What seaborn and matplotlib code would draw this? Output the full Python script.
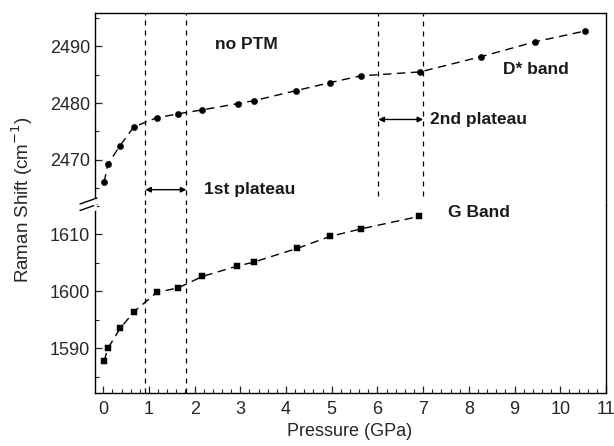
import numpy as np
import pandas as pd
import matplotlib
matplotlib.use('Agg')
import matplotlib.pyplot as plt
from matplotlib.ticker import MultipleLocator
import seaborn as sns

# D* band (upper part)
d_pressure = [0.02, 0.1, 0.37, 0.67, 1.17, 1.64, 2.17, 2.94, 3.29, 4.22, 4.96, 5.63, 6.93, 8.27, 9.44, 10.53]
d_shift = [2466.0, 2469.2, 2472.5, 2475.8, 2477.4, 2478.1, 2478.8, 2479.9, 2480.4, 2482.2, 2483.6, 2484.8, 2485.5, 2488.2, 2490.8, 2492.7]

# G band (lower part)
g_pressure = [0.02, 0.1, 0.37, 0.67, 1.17, 1.64, 2.17, 2.93, 3.29, 4.24, 4.96, 5.63, 6.91]
g_shift = [1587.8, 1590.0, 1593.5, 1596.4, 1599.8, 1600.6, 1602.6, 1604.4, 1605.1, 1607.5, 1609.6, 1610.9, 1613.1]

plateau1 = [0.92, 1.82]
plateau2 = [6.02, 7.0]

df_d = pd.DataFrame({'p': d_pressure, 'shift': d_shift})
df_g = pd.DataFrame({'p': g_pressure, 'shift': g_shift})

sns.set_style('ticks')
plt.rcParams['font.family'] = ['Liberation Sans', 'DejaVu Sans']

fig = plt.figure(figsize=(6.14, 4.46), dpi=100)
ax_top = fig.add_axes([95/614, 1-205/446, 511/614, 192/446])
ax_bot = fig.add_axes([95/614, 1-393/446, 511/614, 188/446], sharex=ax_top)

dash = (6, 4)
sns.lineplot(data=df_d, x='p', y='shift', ax=ax_top, color='black', lw=1.0)
ax_top.lines[-1].set_dashes(dash)
sns.scatterplot(data=df_d, x='p', y='shift', ax=ax_top, color='black', marker='o', s=20, edgecolor='black', zorder=3)

sns.lineplot(data=df_g, x='p', y='shift', ax=ax_bot, color='black', lw=1.0)
ax_bot.lines[-1].set_dashes(dash)
sns.scatterplot(data=df_g, x='p', y='shift', ax=ax_bot, color='black', marker='s', s=18, edgecolor='black', zorder=3)

ax_top.set_xlim(-0.18, 11)
ax_top.set_ylim(2462, 2495.9)
ax_bot.set_ylim(1582.2, 1615.1)

# vertical dashed lines
for x in plateau1:
    ax_top.axvline(x, color='black', lw=0.9, ls=(0, (4, 4)))
    ax_bot.axvline(x, color='black', lw=0.9, ls=(0, (4, 4)))
for x in plateau2:
    ax_top.plot([x, x], [2463.6, 2495.9], color='black', lw=0.9, ls=(0, (4, 4)))

# arrows
ax_top.annotate('', xy=(plateau1[0], 2464.7), xytext=(plateau1[1], 2464.7),
                arrowprops=dict(arrowstyle='<|-|>', color='black', lw=1, mutation_scale=8, shrinkA=0, shrinkB=0))
ax_top.annotate('', xy=(plateau2[0], 2477.1), xytext=(plateau2[1], 2477.1),
                arrowprops=dict(arrowstyle='<|-|>', color='black', lw=1, mutation_scale=8, shrinkA=0, shrinkB=0))

txt = dict(fontsize=12.5, fontweight='bold', color='#1a1a1a')
ax_top.text(2.2, 2464.7, '1st plateau', va='center', ha='left', **txt)
ax_top.text(7.15, 2477.1, '2nd plateau', va='center', ha='left', **txt)
ax_top.text(2.45, 2490.3, 'no PTM', va='center', ha='left', **txt)
ax_top.text(8.75, 2486.0, 'D* band', va='center', ha='left', **txt)
ax_bot.text(7.55, 1613.8, 'G Band', va='center', ha='left', **txt)

for ax in (ax_top, ax_bot):
    ax.tick_params(direction='in', which='major', length=5, width=0.9, labelsize=13)
    ax.tick_params(direction='in', which='minor', length=3, width=0.8)
    ax.yaxis.set_major_locator(MultipleLocator(10))
    ax.yaxis.set_minor_locator(MultipleLocator(5))
    ax.set_ylabel('')
    ax.set_xlabel('')
    for s in ax.spines.values():
        s.set_linewidth(1.0)
        s.set_color('black')

ax_top.spines['bottom'].set_visible(False)
ax_bot.spines['top'].set_visible(False)
ax_top.tick_params(axis='x', which='both', bottom=False, labelbottom=False)
ax_bot.xaxis.set_major_locator(MultipleLocator(1))
ax_bot.xaxis.set_minor_locator(MultipleLocator(0.2))
ax_bot.tick_params(axis='x', pad=6)

fig.text(350/614, 1-432/446, 'Pressure (GPa)', ha='center', va='center', fontsize=13)
fig.text(22/614, 1-200/446, 'Raman Shift (cm$^{-1}$)', rotation=90, ha='center', va='center', fontsize=13.5)

# axis break marks
for yb in (201, 207.5):
    fig.add_artist(plt.Line2D([80/614, 97/614], [1-(yb+3)/446, 1-(yb-3)/446], color='black', lw=1.0))
fig.add_artist(plt.Line2D([95/614, 95/614], [1-209/446, 1-200/446], color='white', lw=2.0))

fig.savefig('out.png', dpi=100)
